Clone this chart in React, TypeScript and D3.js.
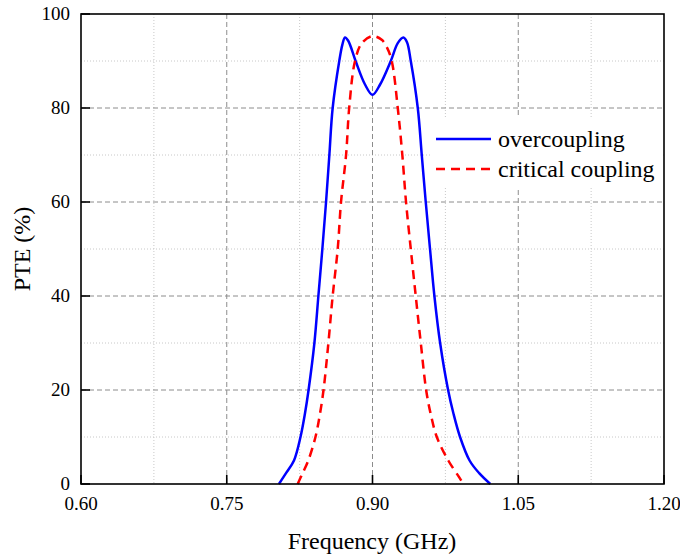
import React from "react";
import * as d3 from "d3";

// Frequency sweep (GHz) and power transfer efficiency (%) for each coupling case
const overFreq = [0.8037, 0.811, 0.8192, 0.8259, 0.8305, 0.8342, 0.8402, 0.8443, 0.8484, 0.8522, 0.8556, 0.859, 0.8658, 0.869, 0.8717, 0.875, 0.8826, 0.8923, 0.9, 0.9078, 0.9188, 0.926, 0.9318, 0.9355, 0.9394, 0.9466, 0.9507, 0.9548, 0.9592, 0.9637, 0.9696, 0.9778, 0.9833, 0.9901, 0.9999, 1.0098, 1.0212];
const overPTE = [0, 2.3, 5, 10, 15, 20, 30, 40, 50, 60, 70, 80, 90, 93.5, 95, 94.3, 90, 85, 82.8, 85, 90, 93.8, 95, 94, 90, 80, 70, 60, 50, 40, 30, 20, 15, 10, 5, 2.3, 0];

const critFreq = [0.823, 0.8274, 0.8339, 0.8413, 0.846, 0.8496, 0.8546, 0.859, 0.8642, 0.8676, 0.8728, 0.876, 0.882, 0.889, 0.9, 0.9095, 0.9146, 0.9198, 0.926, 0.9307, 0.9345, 0.9394, 0.9445, 0.9497, 0.9552, 0.9598, 0.9662, 0.978, 0.9893, 0.9934];
const critPTE = [0, 2, 5, 10, 15, 20, 30, 40, 50, 60, 70, 80, 90, 93.8, 95.3, 94.5, 93, 90, 80, 70, 60, 50, 40, 30, 20, 15, 10, 5, 1.4, 0];

const xTicks = [0.6, 0.75, 0.9, 1.05, 1.2];
const xMinor = [0.675, 0.825, 0.975, 1.125];
const yTicks = [0, 20, 40, 60, 80, 100];
const yMinor = [10, 30, 50, 70, 90];

const seriesNames = ["overcoupling", "critical coupling"];

const W = 680;
const H = 555;
const M = { left: 81, right: 664, top: 14, bottom: 484 };
const FONT = "'Liberation Serif', 'Times New Roman', serif";

export default function App() {
  const x = d3.scaleLinear().domain([0.6, 1.2]).range([M.left, M.right]);
  const y = d3.scaleLinear().domain([0, 100]).range([M.bottom, M.top]);

  const line = d3
    .line<[number, number]>()
    .x((d) => x(d[0]))
    .y((d) => y(d[1]))
    .curve(d3.curveCatmullRom.alpha(0.5));

  const overPath = line(overFreq.map((f, i) => [f, overPTE[i]]) as [number, number][]) || "";
  const critPath = line(critFreq.map((f, i) => [f, critPTE[i]]) as [number, number][]) || "";

  const innerX = xTicks.filter((t) => t > 0.6 && t < 1.2);
  const innerY = yTicks.filter((t) => t > 0 && t < 100);

  return (
    <svg
      width={W}
      height={H}
      style={{ position: "absolute", left: 0, top: 0, background: "#fff", fontFamily: FONT }}
    >
      <rect x={0} y={0} width={W} height={H} fill="#fff" />

      {/* minor grid */}
      {xMinor.map((t) => (
        <line key={"xm" + t} x1={x(t)} x2={x(t)} y1={M.top} y2={M.bottom} stroke="#c8c8c8" strokeWidth={1} strokeDasharray="1,2" />
      ))}
      {yMinor.map((t) => (
        <line key={"ym" + t} x1={M.left} x2={M.right} y1={y(t)} y2={y(t)} stroke="#c8c8c8" strokeWidth={1} strokeDasharray="1,2" />
      ))}
      {/* major grid */}
      {innerX.map((t) => (
        <line key={"xg" + t} x1={x(t)} x2={x(t)} y1={M.top} y2={M.bottom} stroke="#8c8c8c" strokeWidth={1} strokeDasharray="5,3" />
      ))}
      {innerY.map((t) => (
        <line key={"yg" + t} x1={M.left} x2={M.right} y1={y(t)} y2={y(t)} stroke="#8c8c8c" strokeWidth={1} strokeDasharray="5,3" />
      ))}

      {/* curves */}
      <path d={overPath} fill="none" stroke="#0000ff" strokeWidth={2.5} />
      <path d={critPath} fill="none" stroke="#ff0000" strokeWidth={2.5} strokeDasharray="9,6" />

      {/* legend */}
      <rect x={432} y={118} width={229} height={70} fill="#fff" />
      <line x1={436} x2={491} y1={139} y2={139} stroke="#0000ff" strokeWidth={2.5} />
      <text x={498} y={147} fontSize={24} fill="#000" style={{ fontFamily: FONT }}>{seriesNames[0]}</text>
      <line x1={436} x2={491} y1={169} y2={169} stroke="#ff0000" strokeWidth={2.5} strokeDasharray="9,6" />
      <text x={498} y={177} fontSize={24} fill="#000" style={{ fontFamily: FONT }}>{seriesNames[1]}</text>

      {/* frame */}
      <rect x={M.left} y={M.top} width={M.right - M.left} height={M.bottom - M.top} fill="none" stroke="#000" strokeWidth={1.6} />

      {/* ticks */}
      {xTicks.map((t) => (
        <g key={"xt" + t}>
          <line x1={x(t)} x2={x(t)} y1={M.bottom} y2={M.bottom - 9} stroke="#000" strokeWidth={1.6} />
          <text x={x(t)} y={510} textAnchor="middle" fontSize={19} fill="#000" style={{ fontFamily: FONT }}>{t.toFixed(2)}</text>
        </g>
      ))}
      {yTicks.map((t) => (
        <g key={"yt" + t}>
          <line x1={M.left} x2={M.left + 9} y1={y(t)} y2={y(t)} stroke="#000" strokeWidth={1.6} />
          <text x={70} y={y(t)} dy="0.3em" textAnchor="end" fontSize={19} fill="#000" style={{ fontFamily: FONT }}>{t}</text>
        </g>
      ))}

      {/* axis titles */}
      <text x={372} y={549} textAnchor="middle" fontSize={24} fill="#000" style={{ fontFamily: FONT }}>Frequency (GHz)</text>
      <text transform={`translate(30,${(M.top + M.bottom) / 2}) rotate(-90)`} textAnchor="middle" fontSize={24} fill="#000" style={{ fontFamily: FONT }}>PTE (%)</text>
    </svg>
  );
}
